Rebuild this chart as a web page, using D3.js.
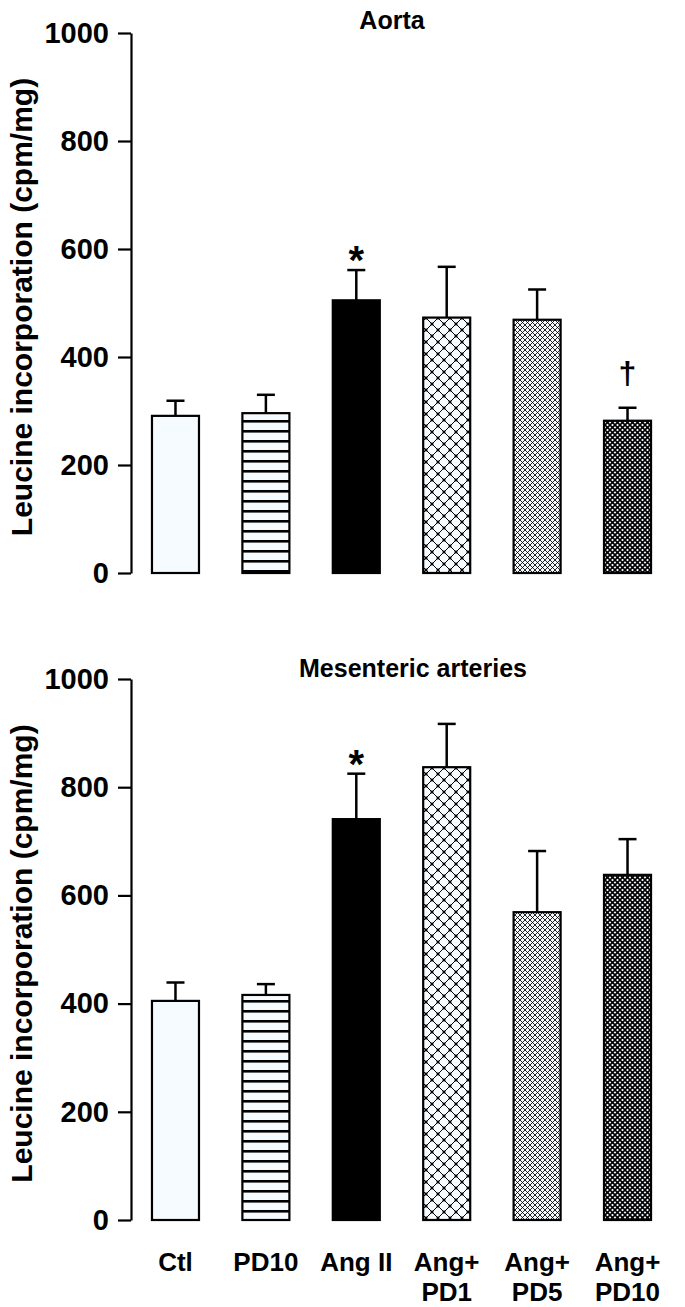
<!DOCTYPE html>
<html><head><meta charset="utf-8">
<script src="https://cdn.jsdelivr.net/npm/d3@7"></script>
<style>html,body{margin:0;padding:0;background:#fff;}svg{display:block;}</style>
</head><body>
<script>
// ---- data ----
const categories = ["Ctl", "PD10", "Ang II", "Ang+\nPD1", "Ang+\nPD5", "Ang+\nPD10"];
const patterns = ["none", "hlines", "solid", "lattice", "fine", "dense"];
const aortaMean = [291, 296, 505, 473, 469, 282];
const aortaSEM  = [28, 34, 56, 94, 56, 24];
const aortaMarks = ["", "", "*", "", "", "†"];
const mesMean = [405, 416, 741, 837, 569, 638];
const mesSEM  = [34, 20, 84, 80, 113, 66];
const mesMarks = ["", "", "*", "", "", ""];
const yTicks = [0, 200, 400, 600, 800, 1000];
const yLabel = "Leucine incorporation (cpm/mg)";
const titles = ["Aorta", "Mesenteric arteries"];

const W = 685, H = 1307;
const FONT = "'Liberation Sans', Arial, Helvetica, sans-serif";
const svg = d3.select("body").append("svg").attr("width", W).attr("height", H);
const defs = svg.append("defs");
const bg = "#f6fbff";

// patterns
const p1 = defs.append("pattern").attr("id", "hlines").attr("patternUnits", "userSpaceOnUse")
  .attr("width", 10).attr("height", 10);
p1.append("rect").attr("width", 10).attr("height", 10).attr("fill", bg);
p1.append("rect").attr("y", 0).attr("width", 10).attr("height", 2.6).attr("fill", "#000");

const L = 12;
const p2 = defs.append("pattern").attr("id", "lattice").attr("patternUnits", "userSpaceOnUse")
  .attr("width", L).attr("height", L);
p2.append("rect").attr("width", L).attr("height", L).attr("fill", bg);
p2.append("path").attr("d", `M0,0L${L},${L}M${L},0L0,${L}`).attr("stroke", "#000").attr("stroke-width", 1);
[[L/2, L/2],[0,0],[L,0],[0,L],[L,L]].forEach(([a,b]) =>
  p2.append("rect").attr("x", a - 1.4).attr("y", b - 1.4).attr("width", 2.8).attr("height", 2.8).attr("fill", "#000"));

const p3 = defs.append("pattern").attr("id", "fine").attr("patternUnits", "userSpaceOnUse")
  .attr("width", 5).attr("height", 5);
p3.append("rect").attr("width", 5).attr("height", 5).attr("fill", bg);
p3.append("path").attr("d", "M0,0L5,5M5,0L0,5").attr("stroke", "#000").attr("stroke-width", 0.85);
p3.append("rect").attr("x", 2).attr("y", 2).attr("width", 1).attr("height", 1).attr("fill", "#000");

const p4 = defs.append("pattern").attr("id", "dense").attr("patternUnits", "userSpaceOnUse")
  .attr("width", 5).attr("height", 5);
p4.append("rect").attr("width", 5).attr("height", 5).attr("fill", bg);
p4.append("path").attr("d", "M0,0L5,5M5,0L0,5").attr("stroke", "#000").attr("stroke-width", 1.6);
p4.append("rect").attr("x", 1.8).attr("y", 1.8).attr("width", 1.4).attr("height", 1.4).attr("fill", "#000");

function fillFor(p) {
  if (p === "none") return bg;
  if (p === "solid") return "#000";
  return "url(#" + p + ")";
}

const x = d3.scaleBand().domain(categories).range([131, 672]).paddingInner(0.48).paddingOuter(0.232);

function panel(means, sems, marks, title, y0, y1, titleX, titleY) {
  const y = d3.scaleLinear().domain([0, 1000]).range([y0, y1]);
  const g = svg.append("g");
  // axis
  const ax = g.append("g").attr("transform", "translate(131,0)")
    .call(d3.axisLeft(y).tickValues(yTicks).tickFormat(d3.format("d")).tickSize(13).tickPadding(9).tickSizeOuter(0));
  ax.select(".domain").attr("stroke", "#000").attr("stroke-width", 2.2);
  ax.selectAll(".tick line").attr("stroke", "#000").attr("stroke-width", 2.2);
  ax.selectAll(".tick text").attr("font-family", FONT).attr("font-weight", "bold")
    .attr("font-size", 29).attr("fill", "#000");
  // y label
  g.append("text").attr("transform", `translate(32,${(y0 + y1) / 2 + 4}) rotate(-90)`)
    .attr("text-anchor", "middle").attr("font-family", FONT).attr("font-weight", "bold")
    .attr("font-size", 30).text(yLabel);
  // title
  g.append("text").attr("x", titleX).attr("y", titleY).attr("text-anchor", "middle")
    .attr("font-family", FONT).attr("font-weight", "bold").attr("font-size", 25).text(title);
  const cx = c => x(c) + x.bandwidth() / 2;
  // error bars
  categories.forEach((c, i) => {
    g.append("line").attr("x1", cx(c)).attr("x2", cx(c)).attr("y1", y(means[i]))
      .attr("y2", y(means[i] + sems[i])).attr("stroke", "#000").attr("stroke-width", 2.5);
    g.append("line").attr("x1", cx(c) - 9).attr("x2", cx(c) + 9).attr("y1", y(means[i] + sems[i]))
      .attr("y2", y(means[i] + sems[i])).attr("stroke", "#000").attr("stroke-width", 2.5);
  });
  // bars
  g.selectAll("rect.bar").data(categories).enter().append("rect").attr("class", "bar")
    .attr("x", c => x(c)).attr("width", x.bandwidth())
    .attr("y", (c, i) => y(means[i])).attr("height", (c, i) => y(0) - y(means[i]))
    .attr("fill", (c, i) => fillFor(patterns[i])).attr("stroke", "#000").attr("stroke-width", 2.2);
  // marks
  categories.forEach((c, i) => {
    if (!marks[i]) return;
    const top = y(means[i] + sems[i]);
    g.append("text").attr("x", cx(c)).attr("y", marks[i] === "*" ? top + 4 : top - 24)
      .attr("text-anchor", "middle").attr("font-family", FONT).attr("font-weight", "bold")
      .attr("font-size", marks[i] === "*" ? 40 : 32).text(marks[i]);
  });
  return y;
}

panel(aortaMean, aortaSEM, aortaMarks, titles[0], 573, 33, 392, 29);
panel(mesMean, mesSEM, mesMarks, titles[1], 1220, 679, 413, 677);

// category labels
categories.forEach(c => {
  const lines = c.split("\n");
  const t = svg.append("text").attr("text-anchor", "middle").attr("font-family", FONT)
    .attr("font-weight", "bold").attr("font-size", 26);
  lines.forEach((l, j) => {
    t.append("tspan").attr("x", x(c) + x.bandwidth() / 2).attr("y", 1271 + j * 30).text(l);
  });
});
</script>
</body></html>
